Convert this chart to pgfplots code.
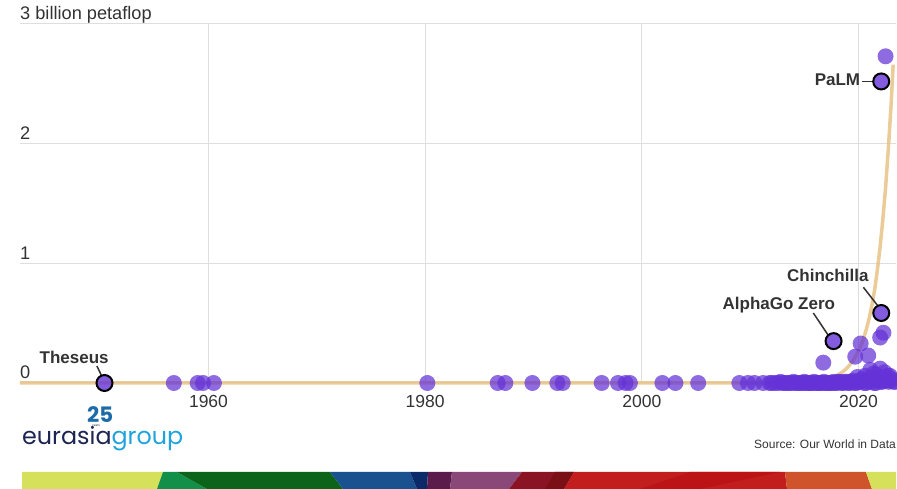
\documentclass[border=0pt]{standalone}
\usepackage{pgfplots}
\pgfplotsset{compat=1.18}
\usepackage{fontspec}
\setmainfont{Liberation Sans}
\newfontfamily\logofont{Poppins}
\usepackage{graphicx}
\definecolor{dotc}{RGB}{100,50,215}
\definecolor{trendc}{RGB}{230,190,125}
\definecolor{gridc}{RGB}{222,222,222}
\definecolor{textc}{RGB}{51,51,51}
\definecolor{navyc}{RGB}{29,37,82}
\definecolor{skyc}{RGB}{31,163,220}
\definecolor{s1}{RGB}{213,224,91}
\definecolor{s2}{RGB}{18,144,74}
\definecolor{s3}{RGB}{11,100,25}
\definecolor{s4}{RGB}{26,82,144}
\definecolor{s5}{RGB}{12,42,106}
\definecolor{s6}{RGB}{92,28,75}
\definecolor{s7}{RGB}{138,72,121}
\definecolor{s8}{RGB}{139,20,36}
\definecolor{s9}{RGB}{122,16,21}
\definecolor{s10}{RGB}{194,30,30}
\definecolor{s11}{RGB}{187,19,22}
\definecolor{s12}{RGB}{207,83,43}
\begin{document}
\begin{tikzpicture}[x=1pt,y=1pt]
\path[use as bounding box] (0,0) rectangle (897,489);
% bottom stripe
\fill[s1] (22,0) -- (22,17) -- (163,17) -- (157,0) -- cycle;
\fill[s2] (157,0) -- (163,17) -- (177,17) -- (207,0) -- cycle;
\fill[s3] (207,0) -- (177,17) -- (330,17) -- (343,0) -- cycle;
\fill[s4] (343,0) -- (330,17) -- (410,17) -- (417,0) -- cycle;
\fill[s5] (417,0) -- (410,17) -- (428,17) -- (427,0) -- cycle;
\fill[s6] (427,0) -- (428,17) -- (452,17) -- (450,0) -- cycle;
\fill[s7] (450,0) -- (452,17) -- (522,17) -- (509,0) -- cycle;
\fill[s8] (509,0) -- (522,17) -- (574,17) -- (564,0) -- cycle;
\fill[s9] (545,0) -- (555,17) -- (574,17) -- (564,0) -- cycle;
\fill[s10] (564,0) -- (574,17) -- (785,17) -- (787,0) -- cycle;
\fill[s11] (640,0) -- (690,17) -- (780,17) -- (700,0) -- cycle;
\fill[s12] (787,0) -- (785,17) -- (866,17) -- (872,0) -- cycle;
\fill[s1] (872,0) -- (866,17) -- (896,17) -- (896,0) -- cycle;
% logo (one node) and source
\node[anchor=base west, inner sep=0pt] at (22,44) {\rlap{\hspace*{65pt}\raisebox{22.5pt}{\resizebox{26pt}{!}{\logofont\bfseries\fontsize{20}{24}\selectfont\textcolor{s4!70!skyc}{25}}}}\rlap{\hspace*{70pt}\raisebox{18.6pt}{\fontsize{3.2}{3.5}\selectfont\textcolor{navyc}{years}}}\resizebox{161pt}{!}{\logofont\fontsize{24}{28}\selectfont\textcolor{navyc}{eurasia}\textcolor{skyc}{group}}};
\node[anchor=base east, inner sep=0pt] at (896,40) {\fontsize{12}{14}\selectfont\textcolor{textc}{Source: Our World in Data}};
\begin{axis}[
  at={(20pt,106pt)}, anchor=south west,
  scale only axis, width=876.4pt, height=359pt,
  xmin=1942.6, xmax=2023.5, ymin=0, ymax=3,
  clip=false,
  axis line style={draw=none},
  tick style={draw=none},
  xtick={1960,1980,2000,2020}, xticklabels={1960,1980,2000,2020},
  ytick={0,1,2,3}, yticklabels={0,1,2,3 billion petaflop},
  xmajorgrids, ymajorgrids,
  grid style={color=gridc, line width=1pt},
  xticklabel style={anchor=north, inner sep=0pt, yshift=-12pt, font=\fontsize{17.5}{20}\selectfont, text=textc},
  yticklabel style={anchor=base west, inner sep=0pt, yshift=4pt, font=\fontsize{18.2}{20}\selectfont, text=textc},
]
% trend line
\addplot[no markers, color=trendc, line width=3.5pt, opacity=0.8] coordinates {
(1942.6,0) (1990,0) (2000,0.0001) (2005,0.0001) (2010,0.0002) (2012,0.0008)
(2014,0.0035) (2015,0.0073) (2016,0.0149) (2017,0.031) (2017.5,0.044)
(2018,0.063) (2018.5,0.090) (2019,0.130) (2019.5,0.186) (2020,0.266)
(2020.25,0.318) (2020.5,0.381) (2020.75,0.456) (2021,0.546) (2021.25,0.654)
(2021.5,0.783) (2021.75,0.95) (2022,1.14) (2022.25,1.37) (2022.5,1.63)
(2022.75,1.95) (2023,2.31) (2023.2,2.66)
};
% all models
\addplot[only marks, mark=*, mark size=8pt, mark options={fill=dotc, fill opacity=0.72, draw=none, draw opacity=0}] coordinates {
(1956.8,0) (1959.0,0) (1959.5,0) (1960.5,0)
(1980.2,0) (1986.7,0) (1987.4,0) (1989.9,0) (1992.2,0) (1992.7,0)
(1996.3,0) (1997.8,0) (1998.5,0) (1998.9,0) (2001.9,0) (2003.1,0) (2005.2,0)
(2009.0,0) (2009.8,0) (2010.4,0) (2011.2,0)
(2011.8,0) (2012.0,0) (2012.3,0) (2012.6,0) (2012.8,0.01) (2013.0,0) (2013.2,0)
(2013.4,0) (2013.6,0) (2013.8,0) (2014.0,0.01) (2014.15,0) (2014.3,0) (2014.5,0)
(2014.7,0) (2014.85,0) (2015.0,0.01) (2015.15,0) (2015.3,0) (2015.45,0) (2015.6,0)
(2015.75,0) (2015.9,0.01) (2016.05,0) (2016.2,0) (2016.35,0) (2016.5,0) (2016.65,0)
(2016.8,0.01) (2016.95,0) (2017.1,0) (2017.25,0) (2017.4,0) (2017.55,0) (2017.7,0.01)
(2017.85,0) (2018.0,0) (2018.15,0.01) (2018.3,0.01) (2018.45,0) (2018.6,0) (2018.75,0.01)
(2018.9,0.01) (2019.05,0) (2019.2,0) (2019.35,0.01) (2019.5,0.02) (2019.65,0) (2019.8,0)
(2019.95,0.01) (2020.1,0.01) (2020.25,0.03) (2020.4,0.02) (2020.55,0) (2020.7,0) (2020.85,0.02)
(2021.0,0.01) (2021.15,0.04) (2021.3,0.02) (2021.45,0) (2021.6,0) (2021.75,0.03) (2021.9,0.03)
(2022.05,0.01) (2022.2,0.01) (2022.35,0.05) (2022.5,0.02) (2022.65,0.03) (2022.8,0.01)
(2022.95,0.02) (2023.1,0.03) (2023.25,0.01) (2023.4,0.01)
(2019.9,0.05) (2020.6,0.06) (2021.6,0.07) (2022.9,0.06) (2022.4,0.09)
(2016.75,0.17) (2019.7,0.22) (2020.2,0.33) (2020.9,0.23) (2021.1,0.11)
(2021.4,0.08) (2022.0,0.12) (2022.0,0.38) (2022.3,0.42) (2022.7,0.06)
(2022.5,2.73)
};
% annotated models
\addplot[only marks, mark=*, mark size=8pt, mark options={fill=dotc, fill opacity=0.8, draw=black, line width=2pt}] coordinates {
(1950.4,0) (2017.7,0.35) (2022.1,0.585) (2022.1,2.52)
};
\draw[textc, line width=1.5pt] (axis cs:1949.7,0.142) -- (axis cs:1950.1,0.067);
\draw[textc, line width=1.5pt] (axis cs:2015.83,0.585) -- (axis cs:2017.2,0.40);
\draw[textc, line width=1.5pt] (axis cs:2020.45,0.80) -- (axis cs:2021.74,0.65);
\draw[textc, line width=1.5pt] (axis cs:2020.36,2.52) -- (axis cs:2021.3,2.52);
\node[anchor=base, inner sep=0pt, text=textc, font=\bfseries\fontsize{17}{20}\selectfont] at (axis cs:1947.6,0.167) {Theseus};
\node[anchor=base, inner sep=0pt, text=textc, font=\bfseries\fontsize{17}{20}\selectfont] at (axis cs:2012.65,0.618) {AlphaGo Zero};
\node[anchor=base, inner sep=0pt, text=textc, font=\bfseries\fontsize{17}{20}\selectfont] at (axis cs:2017.17,0.852) {Chinchilla};
\node[anchor=base east, inner sep=0pt, text=textc, font=\bfseries\fontsize{17}{20}\selectfont] at (axis cs:2020.17,2.485) {PaLM};
\end{axis}
\end{tikzpicture}
\end{document}
